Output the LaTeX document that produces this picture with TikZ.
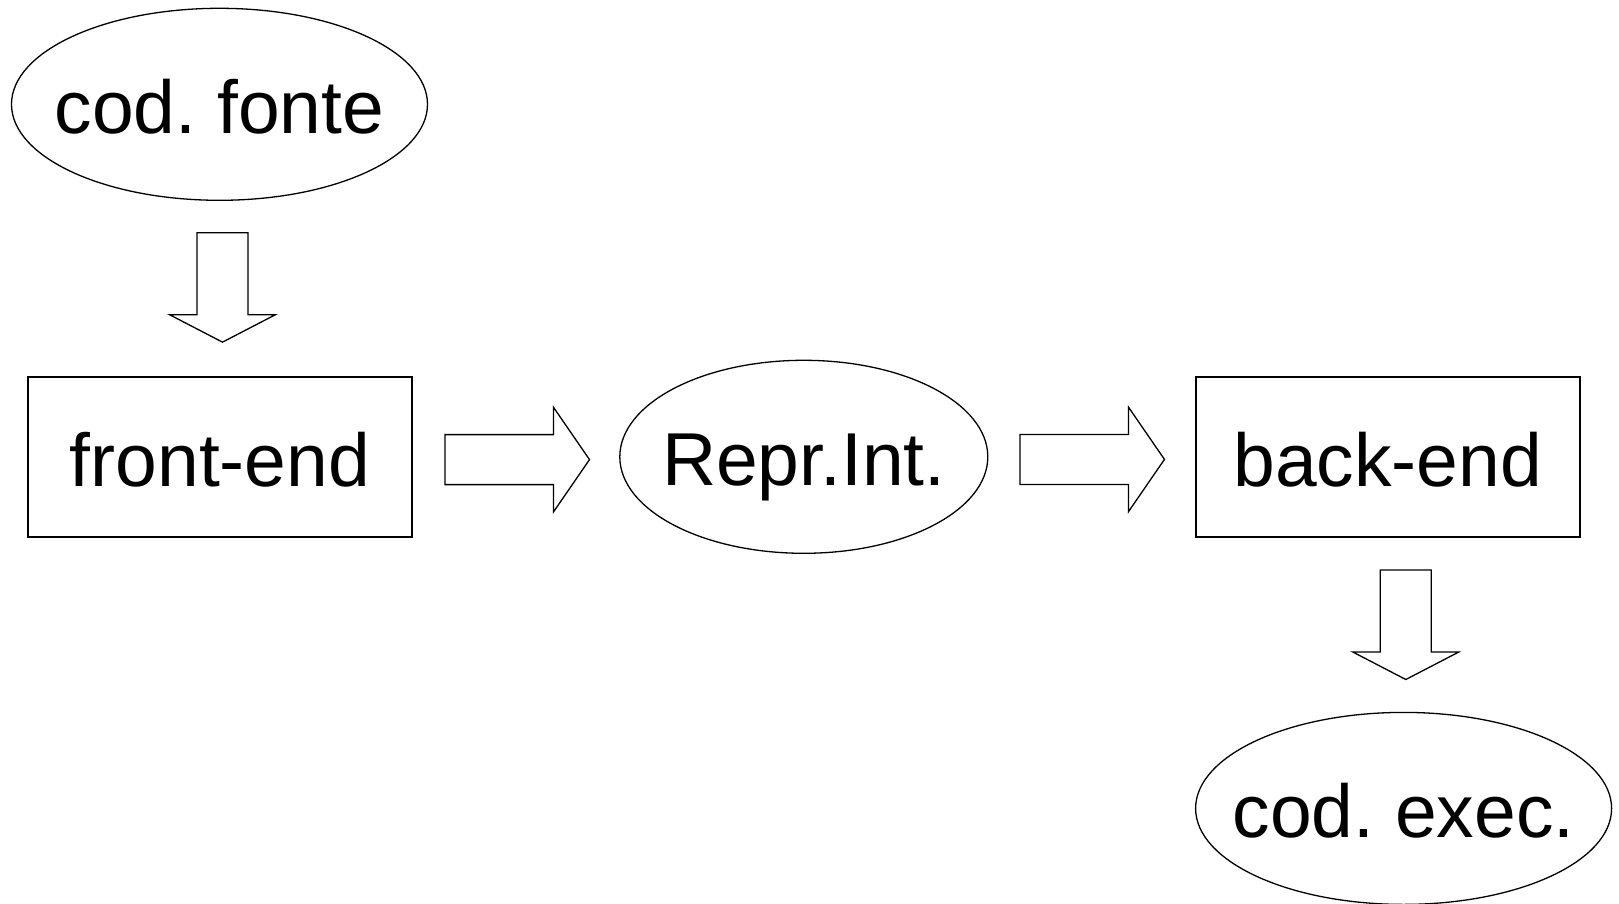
\documentclass[tikz,border=0pt]{standalone}
\usepackage{fontspec}
\setmainfont{Liberation Sans}
\usetikzlibrary{shapes.geometric,calc}
\frenchspacing
\tikzset{
  lbl/.style={font=\fontsize{75}{90}\selectfont, text height=58pt, text depth=0pt, inner sep=0pt},
  stage/.style={draw, line width=2pt, rectangle, minimum width=384pt, minimum height=160pt, inner sep=0pt, lbl},
  datum/.style={draw, line width=1.3pt, ellipse, inner sep=0pt},
  blk/.style={draw, line width=1.3pt, line join=miter, fill=white},
  blockdown/.pic={
    \draw[blk] (-25.5,0) -- (25.5,0) -- (25.5,82) -- (53,82) -- (0,109.5)
      -- (-53,82) -- (-25.5,82) -- cycle;
  },
  blockright/.pic={
    \draw[blk] (0,-25) -- (108.5,-25) -- (108.5,-52.3) -- (144.5,0)
      -- (108.5,52.3) -- (108.5,25) -- (0,25) -- cycle;
  },
}
\begin{document}
\begin{tikzpicture}[x=1pt,y=-1pt]
\useasboundingbox (0,0) rectangle (1619,904);

% stages of the compiler
\node[datum, minimum width=416pt, minimum height=192pt,
      label={[lbl]center:cod. fonte}] (fonte) at (219.5,104.3) {};
\node[stage] (front) at (220,457) {front-end};
\node[datum, minimum width=368pt, minimum height=193pt,
      label={[lbl]center:Repr.Int.}] (repr) at (803.8,456.8) {};
\node[stage] (back) at (1387.8,457) {back-end};
\node[datum, minimum width=416pt, minimum height=192pt,
      label={[lbl]center:cod. exec.}] (exec) at (1403.6,808.4) {};

% block arrows between the stages
\coordinate (a1) at ($(fonte.south)+(3,31.7)$);
\coordinate (a2) at ($(front.east)+(32,2.6)$);
\coordinate (a3) at ($(repr.east)+(31.5,2.6)$);
\coordinate (a4) at ($(back.south)+(18,32)$);
\pic at (a1) {blockdown};
\pic at (a2) {blockright};
\pic at (a3) {blockright};
\pic at (a4) {blockdown};
\end{tikzpicture}
\end{document}
